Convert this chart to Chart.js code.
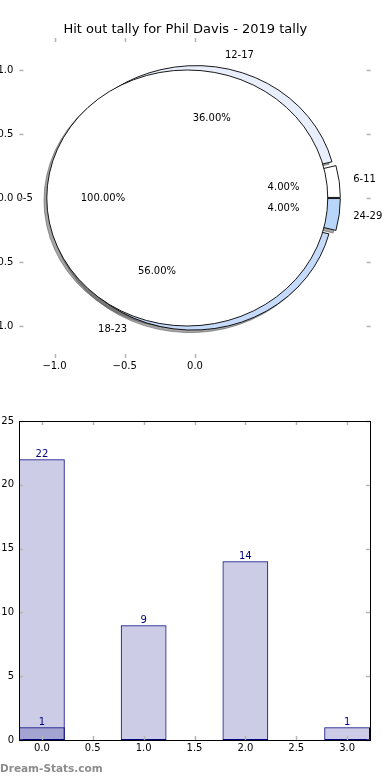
<!DOCTYPE html>
<html>
<head>
<meta charset="utf-8">
<title>Hit out tally for Phil Davis - 2019 tally</title>
<script src="https://cdn.jsdelivr.net/npm/chart.js"></script>
<style>
  body { margin: 0; background: #fff; width: 390px; height: 780px; position: relative; overflow: hidden; }
  #pieChart { position: absolute; left: 0; top: 0; }
  #barChart { position: absolute; left: 0; top: 400px; }
  #credit { position: absolute; left: 0; top: 762px; font: bold 10.5px "DejaVu Sans", sans-serif; color: #8c8c8c; }
</style>
</head>
<body>
<canvas id="pieChart" width="390" height="400"></canvas>
<canvas id="barChart" width="390" height="380"></canvas>
<div id="credit">Dream-Stats.com</div>
<script>
// top pie: the 0-5 bracket is a pie of its own, drawn over the other four
const soloLabels = ['0-5'];
const soloValues = [22];
const soloColors = ['#ffffff'];
const soloExplode = [0.055];

const pieLabels = ['6-11', '12-17', '18-23', '24-29'];
const pieValues = [1, 9, 14, 1];
const pieColors = ['#ffffff', '#e8eefc', '#c6dafc', '#b8d6fa'];
const pieExplode = [0.035, 0.035, 0.035, 0.035];

const pieXTicks = [-1, -0.5, 0];
const pieYTicks = [-1, -0.5, 0, 0.5, 1];

// bottom bars
const barX = [0, 1, 2, 3];
const barValues = [22, 9, 14, 1];
const overlayX = [0];
const overlayValues = [1];
const barXTicks = [0, 0.5, 1, 1.5, 2, 2.5, 3];
const barYTicks = [0, 5, 10, 15, 20, 25];

Chart.defaults.font.family = '"DejaVu Sans", sans-serif';
Chart.defaults.font.size = 10;
Chart.defaults.color = '#000';

function wedgeList(values, labels, colors, explode) {
  const total = values.reduce((a, b) => a + b, 0);
  let start = 0;
  return values.map((v, i) => {
    const sweep = v / total * 360;
    const mid = (start + sweep / 2) * Math.PI / 180;
    const w = {
      label: labels[i], pct: v / total * 100, color: colors[i],
      t1: start, t2: start + sweep, mid: mid,
      cx: explode[i] * Math.cos(mid), cy: explode[i] * Math.sin(mid)
    };
    start += sweep;
    return w;
  });
}

function wedgePath(ctx, sx, sy, w, dx, dy) {
  const px = sx.getPixelForValue(w.cx + dx);
  const py = sy.getPixelForValue(w.cy + dy);
  const rx = sx.getPixelForValue(w.cx + dx + 1) - px;
  const ry = py - sy.getPixelForValue(w.cy + dy + 1);
  ctx.beginPath();
  if (w.t2 - w.t1 >= 359.999) {
    ctx.ellipse(px, py, rx, ry, 0, 0, Math.PI * 2);
  } else {
    ctx.moveTo(px, py);
    ctx.ellipse(px, py, rx, ry, 0, -w.t1 * Math.PI / 180, -w.t2 * Math.PI / 180, true);
    ctx.closePath();
  }
}

const piePlugin = {
  id: 'pies',
  afterDatasetsDraw(chart) {
    const { ctx, scales: { x, y } } = chart;
    const back = wedgeList(pieValues, pieLabels, pieColors, pieExplode);
    const front = wedgeList(soloValues, soloLabels, soloColors, soloExplode);
    const all = back.concat(front);
    ctx.save();
    // shadows sit under every wedge
    all.forEach(w => {
      wedgePath(ctx, x, y, w, -0.02, -0.02);
      ctx.fillStyle = 'rgba(77,77,77,0.5)';
      ctx.strokeStyle = 'rgba(77,77,77,0.5)';
      ctx.lineWidth = 1;
      ctx.fill();
      ctx.stroke();
    });
    all.forEach(w => {
      wedgePath(ctx, x, y, w, 0, 0);
      ctx.fillStyle = w.color;
      ctx.strokeStyle = '#000';
      ctx.lineWidth = 0.9;
      ctx.fill();
      ctx.stroke();
    });
    ctx.fillStyle = '#000';
    ctx.font = '10px "DejaVu Sans"';
    ctx.textBaseline = 'middle';
    all.forEach(w => {
      const lx = w.cx + 1.1 * Math.cos(w.mid);
      const ly = w.cy + 1.1 * Math.sin(w.mid);
      ctx.textAlign = lx > 0 ? 'left' : 'right';
      ctx.fillText(w.label, x.getPixelForValue(lx), y.getPixelForValue(ly));
      ctx.textAlign = 'center';
      ctx.fillText(w.pct.toFixed(2) + '%',
        x.getPixelForValue(w.cx + 0.6 * Math.cos(w.mid)),
        y.getPixelForValue(w.cy + 0.6 * Math.sin(w.mid)));
    });
    ctx.restore();
  }
};

// matplotlib style ticks pointing into the plot on all four sides
const inTicks = {
  id: 'inTicks',
  afterDraw(chart) {
    const { ctx, chartArea: a, scales: { x, y } } = chart;
    ctx.save();
    ctx.strokeStyle = '#b4b4b4';
    ctx.lineWidth = 1.5;
    ctx.beginPath();
    x.ticks.forEach(t => {
      const p = Math.round(x.getPixelForValue(t.value)) + 0.5;
      ctx.moveTo(p, a.top); ctx.lineTo(p, a.top + 4);
      ctx.moveTo(p, a.bottom); ctx.lineTo(p, a.bottom - 4);
    });
    y.ticks.forEach(t => {
      const p = Math.round(y.getPixelForValue(t.value)) + 0.5;
      ctx.moveTo(a.left, p); ctx.lineTo(a.left + 4, p);
      ctx.moveTo(a.right, p); ctx.lineTo(a.right - 4, p);
    });
    ctx.stroke();
    ctx.restore();
  }
};

const frame = {
  id: 'frame',
  afterDraw(chart) {
    const { ctx, chartArea: a } = chart;
    ctx.save();
    ctx.strokeStyle = '#000';
    ctx.lineWidth = 1;
    ctx.strokeRect(Math.round(a.left) + 0.5, Math.round(a.top) + 0.5,
      Math.round(a.right - a.left), Math.round(a.bottom - a.top));
    ctx.restore();
  }
};

const barLabels = {
  id: 'barLabels',
  afterDatasetsDraw(chart) {
    const ctx = chart.ctx;
    ctx.save();
    ctx.fillStyle = '#000080';
    ctx.font = '10px "DejaVu Sans"';
    ctx.textAlign = 'center';
    ctx.textBaseline = 'alphabetic';
    chart.data.datasets.forEach((ds, i) => {
      chart.getDatasetMeta(i).data.forEach((bar, j) => {
        ctx.fillText(String(ds.data[j].y), bar.x, bar.y - 2);
      });
    });
    ctx.restore();
  }
};

const fmt1 = v => (v < 0 ? '\u2212' : '') + Math.abs(v).toFixed(1);

new Chart(document.getElementById('pieChart'), {
  type: 'scatter',
  data: { datasets: [{ data: [] }] },
  options: {
    responsive: false,
    animation: false,
    layout: { padding: { top: 0, right: 19.4, bottom: 22, left: 0 } },
    plugins: {
      legend: { display: false },
      tooltip: { enabled: false },
      title: {
        display: true,
        text: 'Hit out tally for Phil Davis - 2019 tally',
        color: '#000',
        font: { size: 13, weight: 'normal' },
        padding: { top: 22, bottom: 0.4 }
      }
    },
    scales: {
      x: {
        type: 'linear', min: -1.25, max: 1.25,
        afterBuildTicks: s => { s.ticks = pieXTicks.map(v => ({ value: v })); },
        afterFit: s => { s.height = 20; },
        grid: { display: false, drawTicks: false },
        border: { display: false },
        ticks: { padding: 2, autoSkip: false, maxRotation: 0, callback: fmt1 }
      },
      y: {
        type: 'linear', min: -1.25, max: 1.25,
        afterBuildTicks: s => { s.ticks = pieYTicks.map(v => ({ value: v })); },
        afterFit: s => { s.width = 19.4; },
        grid: { display: false, drawTicks: false },
        border: { display: false },
        ticks: { padding: 6, autoSkip: false, callback: fmt1 }
      }
    }
  },
  plugins: [piePlugin, inTicks]
});

// Chart.js measures bar room against the 0.5 tick spacing, so 0.9 of it is 0.45 in data units
const barStyle = {
  backgroundColor: 'rgba(0,0,128,0.2)',
  borderColor: '#000080',
  borderWidth: 1,
  borderSkipped: false,
  grouped: false,
  barPercentage: 0.9,
  categoryPercentage: 1
};

new Chart(document.getElementById('barChart'), {
  type: 'bar',
  data: {
    datasets: [
      Object.assign({ data: overlayX.map((x, i) => ({ x: x, y: overlayValues[i] })), order: 0 }, barStyle),
      Object.assign({ data: barX.map((x, i) => ({ x: x, y: barValues[i] })), order: 1 }, barStyle)
    ]
  },
  options: {
    responsive: false,
    animation: false,
    layout: { padding: { top: 21, right: 20, bottom: 20, left: 0 } },
    plugins: { legend: { display: false }, tooltip: { enabled: false } },
    scales: {
      x: {
        type: 'linear', min: -0.225, max: 3.225, offset: false,
        afterBuildTicks: s => { s.ticks = barXTicks.map(v => ({ value: v })); },
        afterFit: s => { s.height = 20; },
        grid: { display: false, drawTicks: false, offset: false },
        border: { display: false },
        ticks: { padding: 2, autoSkip: false, maxRotation: 0, callback: v => v.toFixed(1) }
      },
      y: {
        min: 0, max: 25,
        afterBuildTicks: s => { s.ticks = barYTicks.map(v => ({ value: v })); },
        afterFit: s => { s.width = 19; },
        grid: { display: false, drawTicks: false },
        border: { display: false },
        ticks: { padding: 5, autoSkip: false, callback: v => String(v) }
      }
    }
  },
  plugins: [inTicks, frame, barLabels]
});
</script>
</body>
</html>
